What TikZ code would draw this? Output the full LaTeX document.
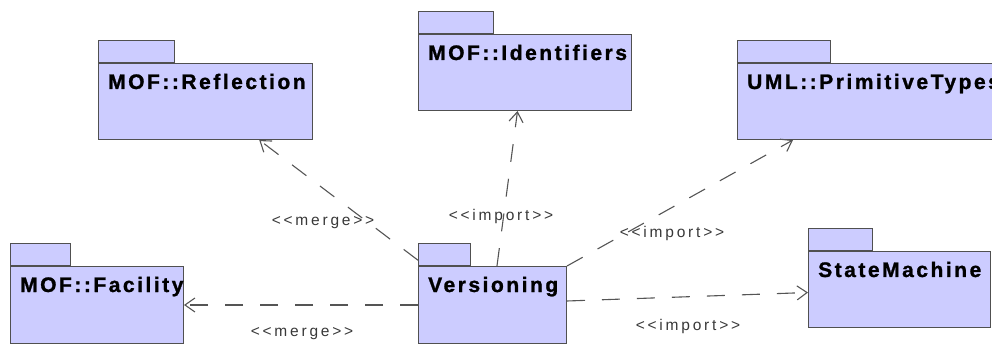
\documentclass[tikz,border=0pt]{standalone}
\usepackage{fontspec}
\usetikzlibrary{arrows.meta,calc}
\newfontfamily\pkgnamefont{Liberation Sans}[UprightFont={* Bold}, LetterSpace=12, FakeBold=1.2]
\newfontfamily\stereofont{Liberation Sans}[LetterSpace=18]
\definecolor{pkgfill}{HTML}{CCCCFF}
\definecolor{pkgline}{HTML}{505050}
\definecolor{depline}{HTML}{555555}
\definecolor{stereotext}{HTML}{383838}

\tikzset{
  pkgtab/.style={draw=pkgline, fill=pkgfill, line width=1pt, inner sep=0pt,
    minimum height=22pt, anchor=north west},
  pkgbody/.style={draw=pkgline, fill=pkgfill, line width=1pt, inner sep=0pt,
    anchor=north west},
  pkgname/.style={inner sep=0pt, anchor=base west,
    font=\pkgnamefont\fontsize{21pt}{23pt}\selectfont},
  stereo/.style={inner sep=0pt, text=stereotext,
    font=\stereofont\fontsize{15.5pt}{17pt}\selectfont},
  dependency/.style={draw=depline, line width=1.1pt, dash pattern=on 18pt off 17pt,
    -{Straight Barb[length=10pt,width=14pt,line width=1.1pt]}},
}

% UML package: tab on top, body below, bold name in the body
% #1 name, #2 x, #3 y of tab top, #4 tab width, #5 body width, #6 body height, #7 title
\newcommand\umlpackage[7]{%
  \node[pkgtab, minimum width=#4pt] (#1-tab) at (#2,#3) {};
  \node[pkgbody, minimum width=#5pt, minimum height=#6pt] (#1) at (#1-tab.south west) {};
  \node[pkgname] (#1-name) at ($(#1.north west)+(10,26)$) {#7};
}

\begin{document}
\begin{tikzpicture}[x=1pt, y=-1pt]
\useasboundingbox (0,0) rectangle (992,344);
\clip (0,0) rectangle (992,344);

\umlpackage{refl}{98}{40}{76}{214}{76}{MOF::Reflection}
\umlpackage{ident}{418}{11}{75}{213}{76}{MOF::Identifiers}
\umlpackage{prim}{737}{40}{93}{270}{76}{UML::PrimitiveTypes}
\umlpackage{fac}{10}{243}{60}{173}{77}{MOF::Facility}
\umlpackage{vers}{418}{243}{52}{148}{77}{Versioning}
\umlpackage{sm}{808}{228}{64}{182}{76}{StateMachine}

% dependencies leaving Versioning
\draw[dependency] ($(vers-tab.south west)!0.25!(vers-tab.north west)$)
  -- ($(refl.south west)!0.75!(refl.south east)$);
\draw[dependency] ($(vers.north west)!0.53!(vers.north east)$)
  -- ($(ident.south west)!0.465!(ident.south east)$);
\draw[dependency] (vers.north east) -- ($(prim.south west)+(56,0)$);
\draw[dependency] (vers.west) -- (fac.east);
\draw[dependency] ($(vers.east)+(0,-4)$) -- ($(sm.west)+(0,3)$);

% stereotypes
\node[stereo] (lbl-merge-up) at (323,223) {<<merge>>};
\node[stereo] (lbl-import-up) at (501,216) {<<import>>};
\node[stereo] (lbl-import-right) at (672,233) {<<import>>};
\node[stereo] (lbl-import-low) at (688,326) {<<import>>};
\node[stereo] (lbl-merge-low) at (302,334) {<<merge>>};
\end{tikzpicture}
\end{document}
